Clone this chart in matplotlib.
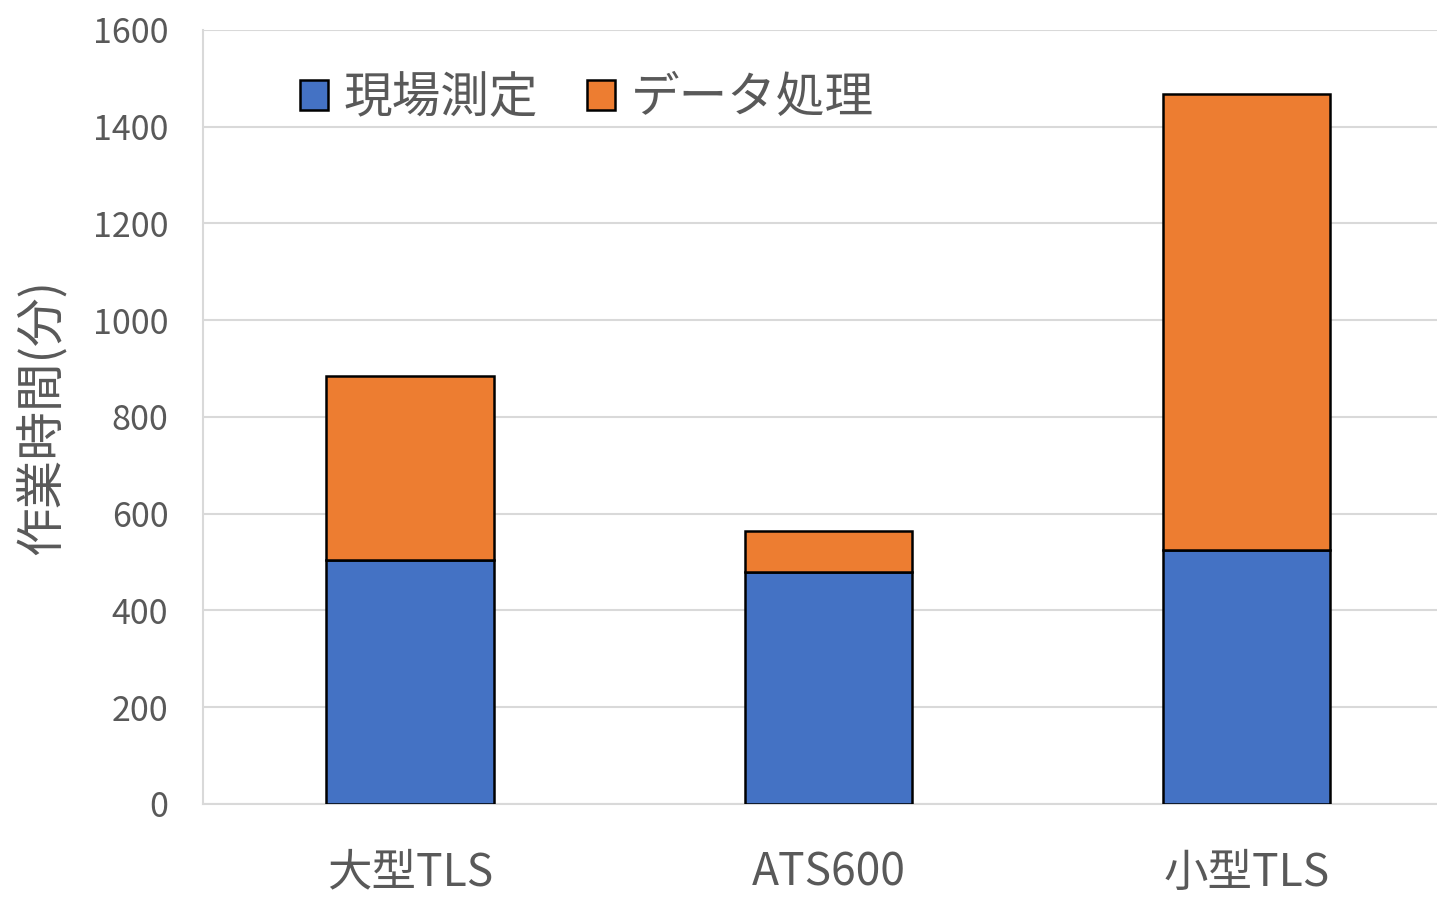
import matplotlib
matplotlib.use("Agg")
import matplotlib.pyplot as plt
import numpy as np

plt.rcParams['font.family'] = ['Noto Sans CJK JP', 'DejaVu Sans']

categories = ["大型TLS", "ATS600", "小型TLS"]
field = [504, 480, 525]        # 現場測定
processing = [381, 84, 943]    # データ処理
series_names = ["現場測定", "データ処理"]
yticks = [0, 200, 400, 600, 800, 1000, 1200, 1400, 1600]

blue = "#4472C4"
orange = "#ED7D31"
text_color = "#595959"

fig = plt.figure(figsize=(14.37, 8.98), dpi=100)
ax = fig.add_axes([0.1413, 0.1047, 0.8587, 0.8619])

x = np.arange(len(categories))
ax.bar(x, field, width=0.4, color=blue, edgecolor="black", linewidth=1.8,
       label=series_names[0], zorder=3)
ax.bar(x, processing, width=0.4, bottom=field, color=orange, edgecolor="black",
       linewidth=1.8, label=series_names[1], zorder=3)

ax.set_xlim(-0.495, 2.455)
ax.set_ylim(0, 1600)
ax.set_yticks(yticks)
ax.set_yticklabels([str(v) for v in yticks])
ax.set_xticks(x)
ax.set_xticklabels(categories)

ax.grid(axis="y", color="#D9D9D9", linewidth=1.5, zorder=0)
for s in ["top", "right"]:
    ax.spines[s].set_visible(False)
ax.spines["left"].set_color("#D9D9D9")
ax.spines["left"].set_linewidth(1.5)
ax.spines["bottom"].set_color("#D9D9D9")
ax.spines["bottom"].set_linewidth(1.5)

ax.tick_params(axis="y", length=0, pad=25, labelsize=24.5, labelcolor=text_color)
ax.tick_params(axis="x", length=0, pad=33, labelsize=32, labelcolor=text_color)

ax.set_ylabel("作業時間(分)", fontsize=35, color=text_color, labelpad=18)

leg = ax.legend(loc="center left", bbox_to_anchor=(0.043, 0.912), ncol=2,
                frameon=False, fontsize=35, handlelength=0.58, handleheight=0.58,
                handletextpad=0.32, columnspacing=1.0, labelcolor=text_color)

fig.savefig("out.png", dpi=100)
